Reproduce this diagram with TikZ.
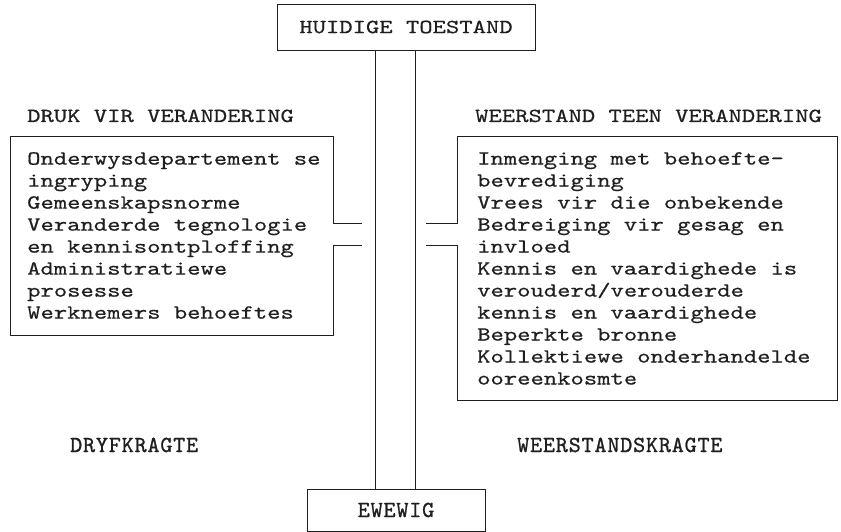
\documentclass[tikz,border=0pt]{standalone}
\usepackage{fontspec}
\newfontfamily\typefont{lmmono10-regular.otf}[FakeStretch=1.27,FakeBold=0.5]
\newfontfamily\narrowfont{lmmono10-regular.otf}[LetterSpace=3.5,FakeBold=1.0]
\definecolor{ink}{gray}{0.12}
\begin{document}
\begin{tikzpicture}[x=1pt,y=-1pt,
  txt/.style={inner sep=0pt, text=ink, font=\typefont\fontsize{20}{22}\selectfont},
  ntxt/.style={inner sep=0pt, text=ink, font=\narrowfont\fontsize{23}{23}\selectfont},
  framebox/.style={draw=ink, line width=0.9pt},
  line/.style={draw=ink, line width=0.9pt},
  area/.style={inner sep=0pt, draw=none}]
\useasboundingbox (0,0) rectangle (841,532);
% top and bottom boxes
\node[txt, framebox, minimum width=258pt, minimum height=46pt] (top) at (406,27) {HUIDIGE TOESTAND};
\node[ntxt, framebox, minimum width=178pt, minimum height=42pt] (eq) at (396,510) {EWEWIG};
% titles
\node[txt, anchor=base west] (dt) at (27,122) {DRUK VIR VERANDERING};
\node[txt, anchor=base west] (wt) at (475,122) {WEERSTAND TEEN VERANDERING};
% box areas
\node[area, anchor=north west, minimum width=323pt, minimum height=199pt] (lbox) at (10,136) {};
\node[area, anchor=north west, minimum width=380pt, minimum height=264pt] (rbox) at (457,136) {};
% lists
\node[txt, anchor=north west, align=left] (ll) at (27,152) {Onderwysdepartement se\\ingryping\\Gemeenskapsnorme\\Veranderde tegnologie\\en kennisontploffing\\Administratiewe\\prosesse\\Werknemers behoeftes};
\node[txt, anchor=north west, align=left] (rl) at (477,152) {Inmenging met behoefte-\\bevrediging\\Vrees vir die onbekende\\Bedreiging vir gesag en\\invloed\\Kennis en vaardighede is\\verouderd/verouderde\\kennis en vaardighede\\Beperkte bronne\\Kollektiewe onderhandelde\\ooreenkosmte};
% force labels
\node[ntxt, anchor=base west] (dk) at (70,452) {DRYFKRAGTE};
\node[ntxt, anchor=base west] (wk) at (517,452) {WEERSTANDSKRAGTE};
% stub ends
\coordinate (lsa) at (362,223);
\coordinate (lsb) at (362,245);
\coordinate (rsa) at (426,223);
\coordinate (rsb) at (426,245);
% box outlines with gaps
\draw[line] (lsa) -- (lsa -| lbox.east) |- (lbox.north west) |- (lbox.south east) -- (lsb -| lbox.east) -- (lsb);
\draw[line] (rsa) -- (rsa -| rbox.west) |- (rbox.north east) |- (rbox.south west) -- (rsb -| rbox.west) -- (rsb);
% long vertical lines
\coordinate (la) at (375,0);
\coordinate (ra) at (415,0);
\draw[line] (top.south -| la) -- (eq.north -| la);
\draw[line] (top.south -| ra) -- (eq.north -| ra);
\end{tikzpicture}
\end{document}
